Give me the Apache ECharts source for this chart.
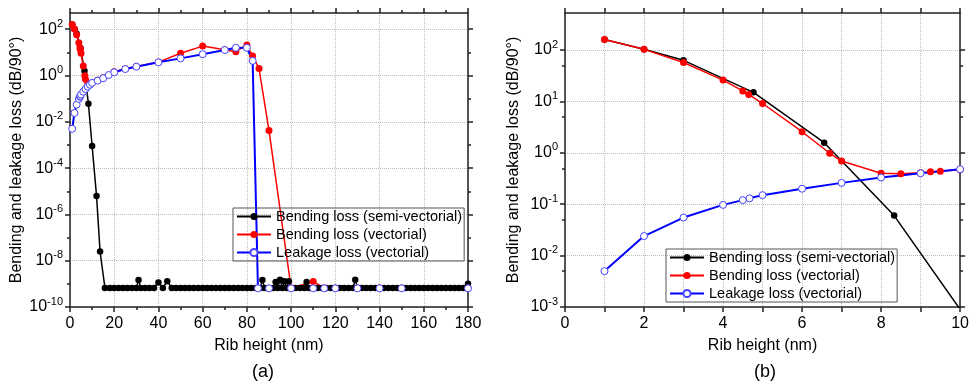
<!DOCTYPE html>
<html><head><meta charset="utf-8">
<script src="https://cdn.jsdelivr.net/npm/echarts@6/dist/echarts.min.js"></script>
<style>html,body{margin:0;padding:0;background:#fff}#c{width:972px;height:384px}</style>
</head><body><div id="c"></div>
<script>
// ---- data (rib height in nm, loss in dB/90°) ----
const seriesNames = ['Bending loss (semi-vectorial)', 'Bending loss (vectorial)', 'Leakage loss (vectorial)'];

const semiX = [1, 2, 3, 4.77, 6.56, 8.33, 10, 12, 13.6, 15.8, 18, 20, 22, 24, 26, 28, 30, 31, 32, 34, 36, 38, 40, 42, 44, 46, 48, 50, 52, 54, 56, 58, 60, 62, 64, 66, 68, 70, 72, 74, 76, 78, 80, 82, 84, 86, 87, 88, 90, 92, 93, 94, 95, 96, 97, 98, 99, 100, 102, 104, 106, 107, 108, 110, 112, 114, 116, 118, 120, 122, 124, 126, 128, 129, 130, 132, 134, 136, 138, 140, 142, 144, 146, 148, 150, 152, 154, 156, 158, 160, 162, 164, 166, 168, 170, 172, 174, 176, 178, 180];
const semiY = [160, 103, 63, 15, 1.57, 0.06, 0.0009, 6.3e-6, 2.5e-8, 6.7e-10, 6.7e-10, 6.7e-10, 6.7e-10, 6.7e-10, 6.7e-10, 6.7e-10, 6.7e-10, 1.45e-9, 6.7e-10, 6.7e-10, 6.7e-10, 6.7e-10, 1.15e-9, 6.7e-10, 1.3e-9, 6.7e-10, 6.7e-10, 6.7e-10, 6.7e-10, 6.7e-10, 6.7e-10, 6.7e-10, 6.7e-10, 6.7e-10, 6.7e-10, 6.7e-10, 6.7e-10, 6.7e-10, 6.7e-10, 6.7e-10, 6.7e-10, 6.7e-10, 6.7e-10, 6.7e-10, 6.7e-10, 6.7e-10, 1.45e-9, 6.7e-10, 6.7e-10, 6.7e-10, 1.2e-9, 6.7e-10, 1.5e-9, 6.7e-10, 1.3e-9, 6.7e-10, 1.3e-9, 6.7e-10, 6.7e-10, 6.7e-10, 6.7e-10, 1.2e-9, 6.7e-10, 6.7e-10, 6.7e-10, 6.7e-10, 6.7e-10, 6.7e-10, 6.7e-10, 6.7e-10, 6.7e-10, 6.7e-10, 6.7e-10, 1.5e-9, 6.7e-10, 6.7e-10, 6.7e-10, 6.7e-10, 6.7e-10, 6.7e-10, 6.7e-10, 6.7e-10, 6.7e-10, 6.7e-10, 6.7e-10, 6.7e-10, 6.7e-10, 6.7e-10, 6.7e-10, 6.7e-10, 6.7e-10, 6.7e-10, 6.7e-10, 6.7e-10, 6.7e-10, 6.7e-10, 6.7e-10, 6.7e-10, 6.7e-10, 1.0e-9];

const vecX = [1, 2, 3, 4, 4.5, 4.65, 5, 6, 6.7, 7, 8, 8.5, 9, 9.25, 9.5, 10, 12.5, 15, 20, 25, 30, 40, 50, 60, 70, 75, 80, 82.6, 85.5, 90, 100, 110, 115, 120, 130, 140, 150, 180];
const vecY = [160, 103, 57, 26, 16, 13.7, 9.1, 2.57, 0.98, 0.69, 0.40, 0.39, 0.41, 0.43, 0.44, 0.47, 0.62, 0.8, 1.45, 1.95, 2.45, 3.8, 9.1, 18.6, 13, 10.7, 21, 6.9, 2.0, 0.0042, 6.7e-10, 1.25e-9, 6.7e-10, 6.7e-10, 6.7e-10, 6.7e-10, 6.7e-10, 6.7e-10];

const leakX = [1, 2, 3, 4, 4.5, 4.67, 5, 6, 7, 8, 9, 10, 12.5, 15, 17.5, 20, 25, 30, 40, 50, 60, 70, 75, 80, 82.6, 85, 90, 100, 110, 115, 120, 130, 140, 150, 180];
const leakY = [0.005, 0.024, 0.055, 0.097, 0.12, 0.13, 0.15, 0.20, 0.26, 0.33, 0.40, 0.48, 0.6, 0.76, 1.05, 1.38, 1.9, 2.4, 3.7, 5.5, 8.3, 12.6, 15.8, 15.8, 4.3, 6.4e-10, 6.4e-10, 6.4e-10, 6.4e-10, 6.4e-10, 6.4e-10, 6.4e-10, 6.4e-10, 6.4e-10, 6.4e-10];

// tick positions (decade exponents)
const yMajorA = [-10, -8, -6, -4, -2, 0, 2];
const yMinorA = [-9, -7, -5, -3, -1, 1];
const yMajorB = [-3, -2, -1, 0, 1, 2];
const yMinorB = [0.005, 0.05, 0.5, 5, 50].map(Math.log10);
const xLabelsB = [0, 2, 4, 6, 8, 10];

// ---- build ----
const FONT = '"Liberation Sans", Arial, sans-serif';
const toPairs = (xs, ys) => xs.map((x, i) => [x, Math.log10(ys[i])]);
const axisLineStyle = { color: '#222', width: 1.5 };
const gridLine = { show: true, lineStyle: { color: '#bdbdbd', type: 'dotted', width: 1 } };
const supRich = {
  b: { fontSize: 16, lineHeight: 22, color: '#000', fontFamily: FONT },
  s: { fontSize: 11, lineHeight: 11, verticalAlign: 'top', color: '#000', fontFamily: FONT }
};
const expFmt = v => '{b|10}{s|' + String(v) + '}';

function xAxes(gridIndex, max, interval, minorSplit, labelVals) {
  return [
    { type: 'value', gridIndex, position: 'bottom', min: 0, max, interval,
      axisLine: { show: true, onZero: false, lineStyle: axisLineStyle },
      axisTick: { show: true, length: 5, lineStyle: axisLineStyle },
      minorTick: { show: minorSplit > 1, splitNumber: minorSplit, length: 3, lineStyle: axisLineStyle },
      axisLabel: Object.assign({ show: true, fontSize: 16, color: '#000', fontFamily: FONT, margin: 9 },
                 labelVals ? { customValues: labelVals } : {}),
      splitLine: gridLine,
      name: 'Rib height (nm)', nameLocation: 'middle', nameGap: 31,
      nameTextStyle: { fontSize: 16, color: '#000', fontFamily: FONT } },
    { type: 'value', gridIndex, position: 'top', min: 0, max, interval,
      axisLine: { show: true, onZero: false, lineStyle: axisLineStyle },
      axisTick: { show: true, length: 5, lineStyle: axisLineStyle },
      minorTick: { show: minorSplit > 1, splitNumber: minorSplit, length: 3, lineStyle: axisLineStyle },
      axisLabel: { show: false }, splitLine: { show: false } }
  ];
}
function yAxes(gridIndex, min, max, majors, minors, nameGap) {
  const base = { type: 'value', gridIndex, min, max, interval: majors[1] - majors[0] };
  return [
    Object.assign({}, base, { position: 'left',
      axisLine: { show: true, onZero: false, lineStyle: axisLineStyle },
      axisTick: { show: true, length: 5, customValues: majors, lineStyle: axisLineStyle },
      axisLabel: { show: true, customValues: majors, formatter: expFmt, rich: supRich, margin: 7 },
      splitLine: gridLine,
      name: 'Bending and leakage loss (dB/90\u00B0)', nameLocation: 'middle', nameGap,
      nameTextStyle: { fontSize: 16, color: '#000', fontFamily: FONT } }),
    Object.assign({}, base, { position: 'right',
      axisLine: { show: true, onZero: false, lineStyle: axisLineStyle },
      axisTick: { show: true, length: 5, customValues: majors, lineStyle: axisLineStyle },
      axisLabel: { show: false }, splitLine: { show: false } }),
    Object.assign({}, base, { position: 'left',
      axisLine: { show: false, onZero: false },
      axisTick: { show: true, length: 3, customValues: minors, lineStyle: axisLineStyle },
      axisLabel: { show: false }, splitLine: { show: false } }),
    Object.assign({}, base, { position: 'right',
      axisLine: { show: false, onZero: false },
      axisTick: { show: true, length: 3, customValues: minors, lineStyle: axisLineStyle },
      axisLabel: { show: false }, splitLine: { show: false } })
  ];
}

function seriesFor(xi, yi) {
  return [
    { name: seriesNames[0], type: 'line', xAxisIndex: xi, yAxisIndex: yi,
      data: toPairs(semiX, semiY), symbol: 'circle', symbolSize: 6.5,
      itemStyle: { color: '#000' }, lineStyle: { color: '#000', width: 1.5 } },
    { name: seriesNames[1], type: 'line', xAxisIndex: xi, yAxisIndex: yi,
      data: toPairs(vecX, vecY), symbol: 'circle', symbolSize: 7,
      itemStyle: { color: '#ff0000' }, lineStyle: { color: '#ff0000', width: 1.5 } },
    { name: seriesNames[2], type: 'line', xAxisIndex: xi, yAxisIndex: yi,
      data: toPairs(leakX, leakY), symbol: 'circle', symbolSize: 7,
      itemStyle: { color: '#ffffff', borderColor: '#4444ff', borderWidth: 1 },
      lineStyle: { color: '#0000ff', width: 2 } }
  ];
}

function legendAt(left, top) {
  return { data: seriesNames, orient: 'vertical', left, top,
    borderColor: '#555', borderWidth: 1, padding: [1, 2, 1, 3], itemGap: 3,
    itemWidth: 34, itemHeight: 9, selectedMode: false,
    textStyle: { fontSize: 14.5, color: '#000', fontFamily: FONT } };
}

const option = {
  animation: false,
  backgroundColor: '#fff',
  textStyle: { fontFamily: FONT },
  grid: [
    { left: 70, top: 13, width: 398, height: 294, containLabel: false },
    { left: 565, top: 13, width: 398, height: 294, containLabel: false }
  ],
  xAxis: [].concat(xAxes(0, 180, 20, 2, null), xAxes(1, 10, 1, 1, xLabelsB)),
  yAxis: [].concat(yAxes(0, -10, 2.7, yMajorA, yMinorA, 45), yAxes(1, -3, 2.72, yMajorB, yMinorB, 43)),
  legend: [legendAt(233, 208), legendAt(666, 249)],
  series: [].concat(seriesFor(0, 0), seriesFor(2, 4)),
  graphic: [
    { type: 'text', x: 263, y: 372, style: { text: '(a)', fontSize: 18, fontFamily: FONT, fill: '#000', align: 'center', verticalAlign: 'middle' } },
    { type: 'text', x: 765, y: 372, style: { text: '(b)', fontSize: 18, fontFamily: FONT, fill: '#000', align: 'center', verticalAlign: 'middle' } }
  ]
};
echarts.init(document.getElementById('c')).setOption(option);
</script>
</body></html>
